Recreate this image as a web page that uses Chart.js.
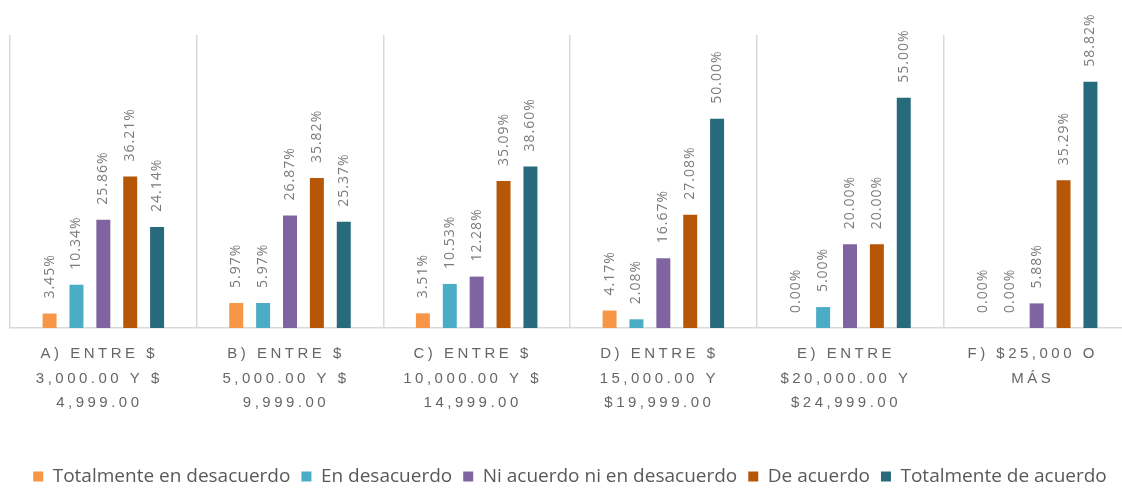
<!DOCTYPE html>
<html lang="es">
<head>
  <meta charset="UTF-8">
  <title>Rango de ingreso</title>
  <script src="https://cdn.jsdelivr.net/npm/chart.js"></script>
  <style>
    html, body { margin: 0; padding: 0; background: #fff; overflow: hidden; }
    #wrap { width: 1140px; height: 489px; }
  </style>
</head>
<body>
  <div id="wrap"><canvas id="grafica"></canvas></div>
  <script>
    // Categorias (rango de ingreso) - cada una en varias lineas
    const categorias = [
      ['A) ENTRE $', '3,000.00 Y $', '4,999.00'],
      ['B) ENTRE $', '5,000.00 Y $', '9,999.00'],
      ['C) ENTRE $', '10,000.00 Y $', '14,999.00'],
      ['D) ENTRE $', '15,000.00 Y', '$19,999.00'],
      ['E) ENTRE', '$20,000.00 Y', '$24,999.00'],
      ['F) $25,000 O', 'MÁS']
    ];

    const totalmenteDesacuerdo = [3.45, 5.97, 3.51, 4.17, 0.00, 0.00];
    const enDesacuerdo         = [10.34, 5.97, 10.53, 2.08, 5.00, 0.00];
    const niAcuerdo            = [25.86, 26.87, 12.28, 16.67, 20.00, 5.88];
    const deAcuerdo            = [36.21, 35.82, 35.09, 27.08, 20.00, 35.29];
    const totalmenteAcuerdo    = [24.14, 25.37, 38.60, 50.00, 55.00, 58.82];

    const series = [
      { nombre: 'Totalmente en desacuerdo', datos: totalmenteDesacuerdo, color: '#F79646' },
      { nombre: 'En desacuerdo', datos: enDesacuerdo, color: '#4BACC6' },
      { nombre: 'Ni acuerdo ni en desacuerdo', datos: niAcuerdo, color: '#8064A2' },
      { nombre: 'De acuerdo', datos: deAcuerdo, color: '#B65708' },
      { nombre: 'Totalmente de acuerdo', datos: totalmenteAcuerdo, color: '#276A7C' }
    ];

    // etiquetas de datos giradas
    const etiquetasDatos = {
      id: 'etiquetasDatos',
      afterDatasetsDraw(chart) {
        const ctx = chart.ctx;
        ctx.save();
        ctx.font = '14px "Open Sans"';
        ctx.fillStyle = '#7a7a7a';
        ctx.letterSpacing = '1px';
        ctx.textAlign = 'left';
        ctx.textBaseline = 'middle';
        chart.data.datasets.forEach((ds, i) => {
          chart.getDatasetMeta(i).data.forEach((bar, j) => {
            ctx.save();
            ctx.translate(bar.x, bar.y - 15);
            ctx.rotate(-Math.PI / 2);
            ctx.fillText(ds.data[j].toFixed(2) + '%', 0, 0);
            ctx.restore();
          });
        });
        ctx.restore();
      }
    };

    // etiquetas del eje x con espaciado entre letras
    const etiquetasEje = {
      id: 'etiquetasEje',
      afterDraw(chart) {
        const ctx = chart.ctx;
        const escala = chart.scales.x;
        ctx.save();
        ctx.font = '15px "Liberation Sans"';
        ctx.fillStyle = '#666666';
        ctx.letterSpacing = '3.5px';
        ctx.textAlign = 'center';
        ctx.textBaseline = 'middle';
        categorias.forEach((lineas, i) => {
          const x = escala.getPixelForTick(i) - 4;
          lineas.forEach((t, k) => {
            ctx.fillText(t, x, chart.chartArea.bottom + 26 + k * 24.5);
          });
        });
        ctx.restore();
      }
    };

    new Chart(document.getElementById('grafica'), {
      type: 'bar',
      data: {
        labels: categorias,
        datasets: series.map(s => ({
          label: s.nombre,
          data: s.datos,
          backgroundColor: s.color,
          categoryPercentage: 0.72,
          barPercentage: 0.52
        }))
      },
      options: {
        responsive: true,
        maintainAspectRatio: false,
        animation: false,
        layout: { padding: { left: 10, right: 10, top: 35, bottom: -7 } },
        scales: {
          x: {
            grid: { display: true, color: '#D9D9D9', lineWidth: 1.5, drawTicks: false },
            border: { display: true, color: '#D9D9D9', width: 1.5 },
            ticks: { display: false },
            afterFit: s => { s.height = 128; }
          },
          y: {
            display: false,
            min: 0,
            max: 70
          }
        },
        plugins: {
          legend: {
            position: 'bottom',
            labels: {
              boxWidth: 10,
              boxHeight: 10,
              padding: 11,
              color: '#595959',
              font: { family: 'Open Sans', size: 19 }
            }
          },
          tooltip: { enabled: false }
        }
      },
      plugins: [etiquetasDatos, etiquetasEje]
    });
  </script>
</body>
</html>
